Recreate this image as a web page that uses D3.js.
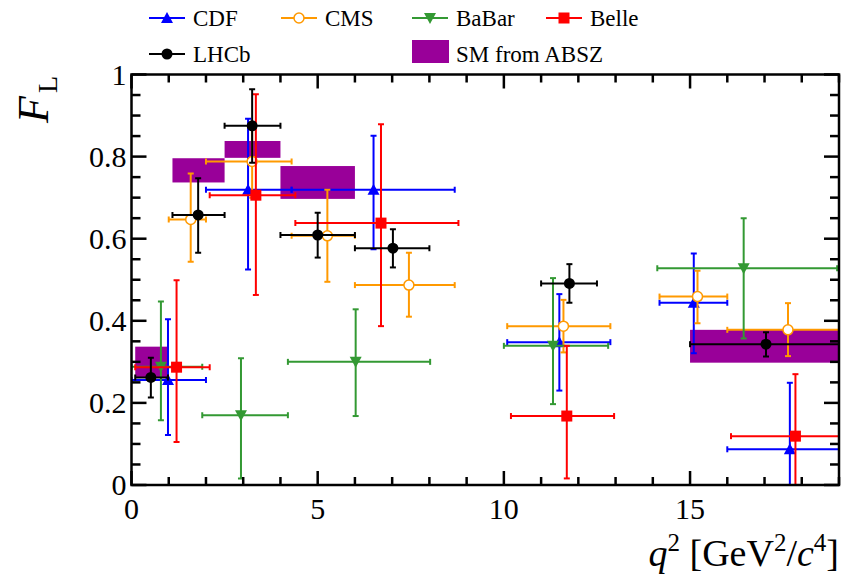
<!DOCTYPE html>
<html>
<head>
<meta charset="utf-8">
<script src="https://d3js.org/d3.v7.min.js"></script>
<style>
body { margin: 0; background: #fff; }
svg { font-family: "Liberation Serif", "DejaVu Serif", serif; }
</style>
</head>
<body>
<div id="chart"></div>
<script>
// F_L measurements per experiment: bin edges, point q2, value, upper/lower error edges
var cdfLo = [0, 2, 4.3, 10.09, 14.18, 16];
var cdfHi = [2, 4.3, 8.68, 12.86, 16, 19];
var cdfX = [0.98, 3.13, 6.5, 11.49, 15.1, 17.68];
var cdfY = [0.256, 0.719, 0.719, 0.348, 0.444, 0.087];
var cdfUp = [0.404, 0.892, 0.851, 0.465, 0.564, 0.249];
var cdfDn = [0.122, 0.525, 0.574, 0.230, 0.321, -0.08];

var cmsLo = [1, 2, 4.3, 6, 10.09, 14.18, 16];
var cmsHi = [2, 4.3, 6, 8.68, 12.86, 16, 19];
var cmsX = [1.59, 3.24, 5.26, 7.45, 11.6, 15.2, 17.63];
var cmsY = [0.647, 0.788, 0.607, 0.487, 0.387, 0.459, 0.378];
var cmsUp = [0.759, 0.88, 0.719, 0.566, 0.451, 0.522, 0.443];
var cmsDn = [0.544, 0.70, 0.495, 0.41, 0.323, 0.394, 0.314];

var babarLo = [0.0, 1.9, 4.2, 10.0, 14.12];
var babarHi = [1.9, 4.2, 8.02, 12.8, 18.95];
var babarX = [0.79, 2.94, 6.02, 11.32, 16.44];
var babarY = [0.288, 0.17, 0.300, 0.339, 0.528];
var babarUp = [0.447, 0.309, 0.428, 0.504, 0.65];
var babarDn = [0.158, 0.016, 0.168, 0.197, 0.357];

var belleLo = [0.1, 2.1, 4.4, 10.19, 16.1];
var belleHi = [2.1, 4.4, 8.78, 12.96, 19];
var belleX = [1.21, 3.34, 6.7, 11.69, 17.83];
var belleY = [0.287, 0.706, 0.638, 0.168, 0.119];
var belleUp = [0.499, 0.952, 0.879, 0.339, 0.27];
var belleDn = [0.105, 0.463, 0.387, 0.016, -0.05];

var lhcbLo = [0.1, 1.1, 2.5, 4, 6, 11, 15];
var lhcbHi = [0.98, 2.5, 4, 6, 8, 12.5, 19];
var lhcbX = [0.52, 1.79, 3.24, 5.0, 7.02, 11.76, 17.04];
var lhcbY = [0.262, 0.658, 0.875, 0.609, 0.577, 0.491, 0.343];
var lhcbUp = [0.31, 0.747, 0.964, 0.663, 0.623, 0.538, 0.372];
var lhcbDn = [0.213, 0.566, 0.785, 0.554, 0.530, 0.444, 0.313];

// SM prediction (ABSZ) bands
var smLo = [0.1, 1.1, 2.5, 4, 15];
var smHi = [0.98, 2.5, 4, 6, 19];
var smBot = [0.262, 0.737, 0.797, 0.697, 0.298];
var smTop = [0.337, 0.796, 0.838, 0.777, 0.378];

var xTicks = [0, 5, 10, 15];
var yTicks = [0, 0.2, 0.4, 0.6, 0.8, 1];

var W = 853, H = 576;
var padL = 131.5, padR = 839, padT = 74.5, padB = 485;

var svg = d3.select("#chart").append("svg").attr("width", W).attr("height", H);

var x = d3.scaleLinear().domain([0, 19]).range([padL, padR]);
var y = d3.scaleLinear().domain([0, 1]).range([padB, padT]);

svg.append("clipPath").attr("id", "clip")
  .append("rect").attr("x", padL).attr("y", padT).attr("width", padR - padL).attr("height", padB - padT);

var plot = svg.append("g").attr("clip-path", "url(#clip)");

// SM boxes
plot.selectAll("rect.sm").data(d3.range(smLo.length)).enter().append("rect")
  .attr("class", "sm")
  .attr("x", i => x(smLo[i]))
  .attr("width", i => x(smHi[i]) - x(smLo[i]))
  .attr("y", i => y(smTop[i]))
  .attr("height", i => y(smBot[i]) - y(smTop[i]))
  .attr("fill", "#990099");

function series(lo, hi, px, py, up, dn) {
  return d3.range(px.length).map(i => ({lo: lo[i], hi: hi[i], x: px[i], y: py[i], up: up[i], dn: dn[i]}));
}

var sets = [
  {name: "CDF", color: "#0000ff", shape: "triup", data: series(cdfLo, cdfHi, cdfX, cdfY, cdfUp, cdfDn)},
  {name: "CMS", color: "#ff9900", shape: "open", data: series(cmsLo, cmsHi, cmsX, cmsY, cmsUp, cmsDn)},
  {name: "BaBar", color: "#339933", shape: "tridown", data: series(babarLo, babarHi, babarX, babarY, babarUp, babarDn)},
  {name: "Belle", color: "#ff0000", shape: "square", data: series(belleLo, belleHi, belleX, belleY, belleUp, belleDn)},
  {name: "LHCb", color: "#000000", shape: "circle", data: series(lhcbLo, lhcbHi, lhcbX, lhcbY, lhcbUp, lhcbDn)}
];

function marker(g, shape, color, cx, cy) {
  if (shape === "circle") {
    g.append("circle").attr("cx", cx).attr("cy", cy).attr("r", 5.5).attr("fill", color);
  } else if (shape === "open") {
    g.append("circle").attr("cx", cx).attr("cy", cy).attr("r", 5).attr("fill", "#fff")
      .attr("stroke", color).attr("stroke-width", 1.5);
  } else if (shape === "square") {
    g.append("rect").attr("x", cx - 5.5).attr("y", cy - 5.5).attr("width", 11).attr("height", 11).attr("fill", color);
  } else if (shape === "triup") {
    g.append("path").attr("d", `M${cx - 6},${cy + 5}L${cx + 6},${cy + 5}L${cx},${cy - 6}Z`).attr("fill", color);
  } else if (shape === "tridown") {
    g.append("path").attr("d", `M${cx - 6},${cy - 5}L${cx + 6},${cy - 5}L${cx},${cy + 6}Z`).attr("fill", color);
  }
}

var cap = 3;
sets.forEach(function(s) {
  var g = plot.append("g").attr("stroke", s.color).attr("stroke-width", 2);
  s.data.forEach(function(d) {
    var px = x(d.x), py = y(d.y);
    var x0 = x(d.lo), x1 = x(d.hi), y0 = y(d.up), y1 = y(d.dn);
    g.append("line").attr("x1", x0).attr("x2", x1).attr("y1", py).attr("y2", py);
    g.append("line").attr("x1", px).attr("x2", px).attr("y1", y0).attr("y2", y1);
    g.append("line").attr("x1", x0).attr("x2", x0).attr("y1", py - cap).attr("y2", py + cap);
    g.append("line").attr("x1", x1).attr("x2", x1).attr("y1", py - cap).attr("y2", py + cap);
    g.append("line").attr("x1", px - cap).attr("x2", px + cap).attr("y1", y0).attr("y2", y0);
    g.append("line").attr("x1", px - cap).attr("x2", px + cap).attr("y1", y1).attr("y2", y1);
  });
  var mg = plot.append("g");
  s.data.forEach(d => marker(mg, s.shape, s.color, x(d.x), y(d.y)));
});

// frame and ticks (ROOT style, ticks on all sides)
var axes = svg.append("g").attr("stroke", "#000").attr("stroke-width", 2.5).attr("fill", "none");
axes.append("rect").attr("x", padL).attr("y", padT).attr("width", padR - padL).attr("height", padB - padT);

d3.range(0, 19.001, 1).forEach(function(v) {
  var len = (v % 5 === 0) ? 14 : 8;
  axes.append("line").attr("x1", x(v)).attr("x2", x(v)).attr("y1", padB).attr("y2", padB - len);
  axes.append("line").attr("x1", x(v)).attr("x2", x(v)).attr("y1", padT).attr("y2", padT + len);
});
d3.range(0, 1.0001, 0.05).forEach(function(v, i) {
  var len = (i % 4 === 0) ? 15 : 9;
  axes.append("line").attr("x1", padL).attr("x2", padL + len).attr("y1", y(v)).attr("y2", y(v));
  axes.append("line").attr("x1", padR).attr("x2", padR - len).attr("y1", y(v)).attr("y2", y(v));
});

var fmtY = d3.format("~g");
svg.append("g").selectAll("text").data(yTicks).enter().append("text")
  .attr("x", padL - 5).attr("y", d => y(d) + 10)
  .attr("text-anchor", "end").attr("font-size", 30)
  .text(d => fmtY(d));

svg.append("g").selectAll("text").data(xTicks).enter().append("text")
  .attr("x", d => x(d)).attr("y", padB + 34)
  .attr("text-anchor", "middle").attr("font-size", 30)
  .text(d => d);

// axis titles
var xl = svg.append("text").attr("x", padR).attr("y", 566).attr("text-anchor", "end").attr("font-size", 38);
xl.append("tspan").attr("font-style", "italic").text("q");
xl.append("tspan").attr("font-size", 25).attr("dy", -15).text("2");
xl.append("tspan").attr("dy", 15).text(" [GeV");
xl.append("tspan").attr("font-size", 25).attr("dy", -15).text("2");
xl.append("tspan").attr("dy", 15).text("/");
xl.append("tspan").attr("font-style", "italic").text("c");
xl.append("tspan").attr("font-size", 25).attr("dy", -15).text("4");
xl.append("tspan").attr("dy", 15).text("]");

var yl = svg.append("text").attr("transform", "translate(48,76) rotate(-90)")
  .attr("text-anchor", "end").attr("font-size", 44);
yl.append("tspan").attr("font-style", "italic").text("F");
yl.append("tspan").attr("font-size", 28).attr("dy", 9).attr("dx", 3).text("L");

// legend
var legendItems = [
  {set: 0, lx: 149, ly: 18},
  {set: 1, lx: 281, ly: 18},
  {set: 2, lx: 412, ly: 18},
  {set: 3, lx: 546, ly: 18},
  {set: 4, lx: 149, ly: 54}
];
var leg = svg.append("g");
legendItems.forEach(function(it) {
  var s = sets[it.set];
  leg.append("line").attr("x1", it.lx).attr("x2", it.lx + 36).attr("y1", it.ly).attr("y2", it.ly)
    .attr("stroke", s.color).attr("stroke-width", 2);
  marker(leg, s.shape, s.color, it.lx + 18, it.ly);
  leg.append("text").attr("x", it.lx + 44).attr("y", it.ly + 8).attr("font-size", 23).text(s.name);
});
leg.append("rect").attr("x", 412).attr("y", 40).attr("width", 37).attr("height", 23).attr("fill", "#990099");
leg.append("text").attr("x", 456).attr("y", 62).attr("font-size", 23).text("SM from ABSZ");
</script>
</body>
</html>
